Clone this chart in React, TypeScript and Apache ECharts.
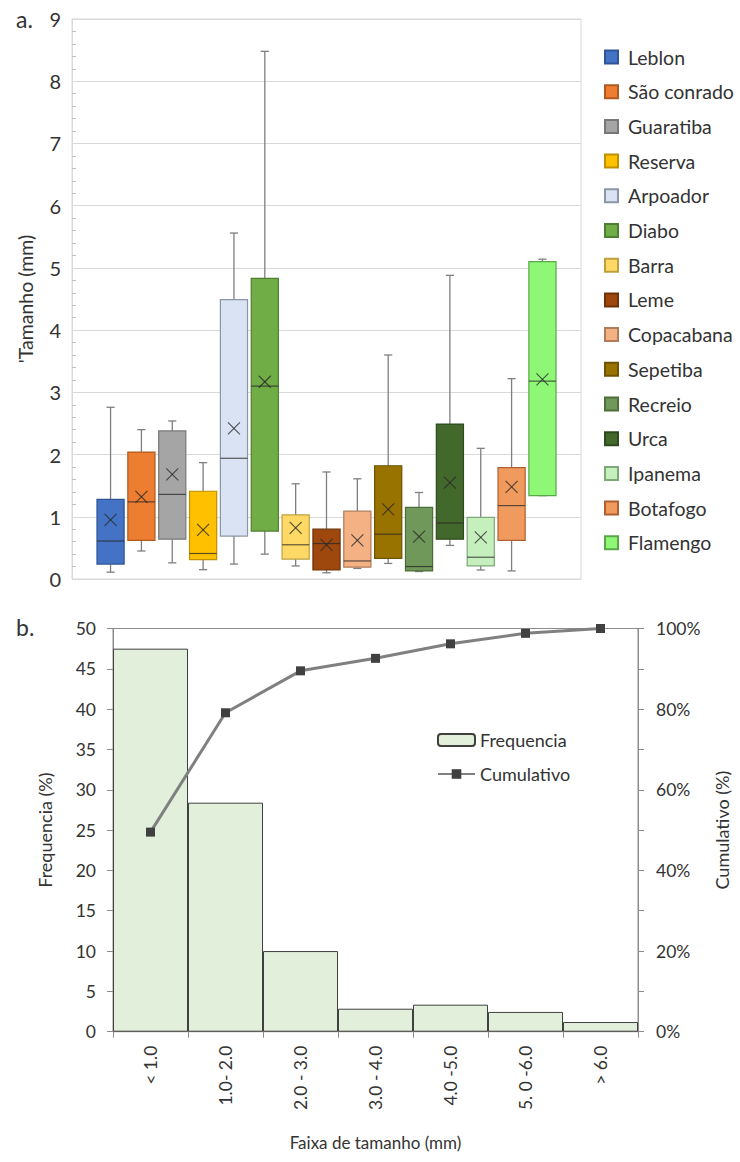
import React, { useEffect, useRef } from "react";
import * as echarts from "echarts";

// ---- Chart a: box plots (mm) ----
const BEACHES = ["Leblon", "São conrado", "Guaratiba", "Reserva", "Arpoador", "Diabo", "Barra", "Leme", "Copacabana", "Sepetiba", "Recreio", "Urca", "Ipanema", "Botafogo", "Flamengo"];
const MIN_V = [0.11, 0.45, 0.26, 0.15, 0.24, 0.40, 0.21, 0.10, 0.17, 0.25, 0.12, 0.54, 0.145, 0.13, 1.34];
const Q1_V = [0.24, 0.62, 0.64, 0.31, 0.69, 0.77, 0.32, 0.145, 0.19, 0.33, 0.13, 0.64, 0.21, 0.62, 1.34];
const MEDIAN_V = [0.61, 1.24, 1.36, 0.41, 1.94, 3.10, 0.55, 0.57, 0.29, 0.72, 0.20, 0.90, 0.35, 1.18, 3.18];
const Q3_V = [1.28, 2.04, 2.38, 1.41, 4.49, 4.83, 1.03, 0.80, 1.09, 1.82, 1.15, 2.49, 0.99, 1.79, 5.10];
const MAX_V = [2.76, 2.40, 2.54, 1.87, 5.56, 8.48, 1.53, 1.72, 1.61, 3.60, 1.39, 4.88, 2.10, 3.22, 5.14];
const MEAN_V = [0.95, 1.32, 1.68, 0.79, 2.42, 3.17, 0.82, 0.55, 0.62, 1.12, 0.68, 1.55, 0.67, 1.48, 3.21];

// ---- Chart b: histogram ----
const RANGES = ["< 1.0", "1.0- 2.0", "2.0 - 3.0", "3.0 - 4.0", "4.0 -5.0", "5. 0 -6.0", "> 6.0"];
const FREQ = [47.5, 28.4, 10.0, 2.85, 3.35, 2.45, 1.2];
const CUMUL = [49.5, 79.1, 89.5, 92.6, 96.2, 98.8, 100];

// styles
const FILLS = ["#4472C4", "#ED7D31", "#A5A5A5", "#FFC000", "#DAE3F3", "#70AD47", "#FFD966", "#9E480E", "#F4B183", "#997300", "#70985A", "#43682B", "#C5F0BE", "#F19A5E", "#8EF876"];
const BORDERS = ["#2F5597", "#AE5A21", "#787878", "#BF9000", "#8C96A6", "#507E32", "#BFA040", "#6E3308", "#B07C5A", "#6E5300", "#4E6E3A", "#2E4A1E", "#7FA878", "#B06030", "#5CA64A"];
const FONT = "Lato";
const TXT = "#333333";
const BOX_W = 0.88;

export default function App() {
  const ref = useRef<HTMLDivElement>(null);
  useEffect(() => {
    const chart = echarts.init(ref.current!, null, { renderer: "svg" });

    const boxSeries = BEACHES.map((name, i) => ({
      type: "custom",
      name,
      xAxisIndex: 0,
      yAxisIndex: 0,
      itemStyle: { color: FILLS[i], borderColor: BORDERS[i], borderWidth: 1 },
      encode: { x: 0, y: [1, 2, 3, 4, 5, 6] },
      data: [[i, MIN_V[i], Q1_V[i], MEDIAN_V[i], Q3_V[i], MAX_V[i], MEAN_V[i]]],
      renderItem: (params: any, api: any) => {
        const x = api.value(0);
        const lo = api.coord([x, api.value(1)]);
        const q1 = api.coord([x, api.value(2)]);
        const md = api.coord([x, api.value(3)]);
        const q3 = api.coord([x, api.value(4)]);
        const hi = api.coord([x, api.value(5)]);
        const mn = api.coord([x, api.value(6)]);
        const w = api.size([BOX_W, 0])[0];
        const cx = lo[0];
        const cap = w * 0.3;
        const wStyle = { stroke: "#7F7F7F", lineWidth: 1.3 };
        const m = 6;
        return {
          type: "group",
          children: [
            { type: "line", shape: { x1: cx, y1: hi[1], x2: cx, y2: q3[1] }, style: wStyle },
            { type: "line", shape: { x1: cx, y1: q1[1], x2: cx, y2: lo[1] }, style: wStyle },
            { type: "line", shape: { x1: cx - cap / 2, y1: hi[1], x2: cx + cap / 2, y2: hi[1] }, style: wStyle },
            { type: "line", shape: { x1: cx - cap / 2, y1: lo[1], x2: cx + cap / 2, y2: lo[1] }, style: wStyle },
            {
              type: "rect",
              shape: { x: cx - w / 2, y: q3[1], width: w, height: q1[1] - q3[1] },
              style: { fill: FILLS[i], stroke: BORDERS[i], lineWidth: 1.2 },
            },
            { type: "line", shape: { x1: cx - w / 2, y1: md[1], x2: cx + w / 2, y2: md[1] }, style: { stroke: "rgba(40,40,40,0.75)", lineWidth: 1.2 } },
            { type: "line", shape: { x1: cx - m, y1: mn[1] - m, x2: cx + m, y2: mn[1] + m }, style: { stroke: "rgba(40,40,40,0.8)", lineWidth: 1.1 } },
            { type: "line", shape: { x1: cx - m, y1: mn[1] + m, x2: cx + m, y2: mn[1] - m }, style: { stroke: "rgba(40,40,40,0.8)", lineWidth: 1.1 } },
          ],
        };
      },
    }));

    const option: any = {
      animation: false,
      textStyle: { fontFamily: FONT, color: TXT },
      graphic: [
        { type: "text", left: 16, top: 7, style: { text: "a.", fontSize: 23, fontFamily: FONT, fill: TXT } },
        { type: "text", left: 16, top: 615, style: { text: "b.", fontSize: 23, fontFamily: FONT, fill: TXT } },
      ],
      legend: [
        {
          data: BEACHES,
          orient: "vertical",
          left: 604,
          top: 47,
          padding: 0,
          icon: "rect",
          itemWidth: 13,
          itemHeight: 13,
          itemGap: 14.7,
          selectedMode: false,
          textStyle: { fontFamily: FONT, fontSize: 19.5, color: TXT, lineHeight: 20, padding: [0, 0, 0, 5] },
        },
        {
          data: ["Frequencia", "Cumulativo"],
          orient: "vertical",
          left: 437,
          top: 731,
          padding: 0,
          itemWidth: 37,
          itemHeight: 12,
          itemGap: 16,
          selectedMode: false,
          textStyle: { fontFamily: FONT, fontSize: 18, color: TXT, lineHeight: 18 },
        },
      ],
      grid: [
        { left: 72, top: 19, width: 509, height: 560, show: true, borderColor: "#D9D9D9", borderWidth: 1 },
        { left: 113, top: 628.5, width: 525, height: 403.2, show: true, borderColor: "#8C8C8C", borderWidth: 1 },
      ],
      xAxis: [
        { type: "value", gridIndex: 0, min: -1.25, max: 15.25, show: false },
        {
          type: "category",
          gridIndex: 1,
          data: RANGES,
          boundaryGap: true,
          axisLine: { lineStyle: { color: "#8C8C8C" } },
          axisTick: { show: true, length: 6, lineStyle: { color: "#8C8C8C" } },
          axisLabel: { rotate: 90, fontSize: 17.5, color: TXT, margin: 14, fontFamily: FONT },
          name: "Faixa de tamanho (mm)",
          nameLocation: "middle",
          nameGap: 102,
          nameTextStyle: { fontSize: 17, color: TXT, fontFamily: FONT },
        },
      ],
      yAxis: [
        {
          type: "value",
          gridIndex: 0,
          min: 0,
          max: 9,
          interval: 1,
          axisLine: { show: true, onZero: false, lineStyle: { color: "#D9D9D9" } },
          axisTick: { show: false, inside: true },
          minorTick: { show: true, splitNumber: 5, length: 4, lineStyle: { color: "#BFBFBF" } },
          splitLine: { show: true, lineStyle: { color: "#D9D9D9", width: 1 } },
          axisLabel: { fontSize: 20, color: TXT, margin: 11, fontFamily: FONT },
          name: "'Tamanho (mm)",
          nameLocation: "middle",
          nameGap: 37,
          nameTextStyle: { fontSize: 19.5, color: TXT, fontFamily: FONT },
        },
        {
          type: "value",
          gridIndex: 1,
          min: 0,
          max: 50,
          interval: 5,
          position: "left",
          axisLine: { show: true, onZero: false, lineStyle: { color: "#8C8C8C" } },
          axisTick: { show: true, length: 6, lineStyle: { color: "#8C8C8C" } },
          splitLine: { show: false },
          axisLabel: { fontSize: 17.5, color: TXT, margin: 17, fontFamily: FONT },
          name: "Frequencia (%)",
          nameLocation: "middle",
          nameGap: 59,
          nameTextStyle: { fontSize: 18, color: TXT, fontFamily: FONT },
        },
        {
          type: "value",
          gridIndex: 1,
          min: 0,
          max: 100,
          interval: 20,
          position: "right",
          axisLine: { show: true, onZero: false, lineStyle: { color: "#8C8C8C" } },
          axisTick: { show: true, length: 6, lineStyle: { color: "#8C8C8C" } },
          minorTick: { show: true, splitNumber: 2, length: 6, lineStyle: { color: "#8C8C8C" } },
          splitLine: { show: false },
          axisLabel: { fontSize: 17.5, color: TXT, margin: 18, fontFamily: FONT, formatter: "{value}%" },
          name: "Cumulativo (%)",
          nameLocation: "middle",
          nameGap: 75,
          nameTextStyle: { fontSize: 18, color: TXT, fontFamily: FONT },
        },
      ],
      series: [
        ...boxSeries,
        {
          type: "bar",
          name: "Frequencia",
          xAxisIndex: 1,
          yAxisIndex: 1,
          data: FREQ,
          barWidth: "100%",
          barCategoryGap: 0,
          itemStyle: { color: "#E2EFDA", borderColor: "#404040", borderWidth: 1 },
        },
        {
          type: "line",
          name: "Cumulativo",
          xAxisIndex: 1,
          yAxisIndex: 2,
          data: CUMUL,
          symbol: "rect",
          symbolSize: 9,
          lineStyle: { color: "#808080", width: 3 },
          itemStyle: { color: "#404040" },
        },
      ],
    };
    chart.setOption(option);
    return () => chart.dispose();
  }, []);
  return <div ref={ref} style={{ position: "absolute", left: 0, top: 0, width: 740, height: 1162 }} />;
}
